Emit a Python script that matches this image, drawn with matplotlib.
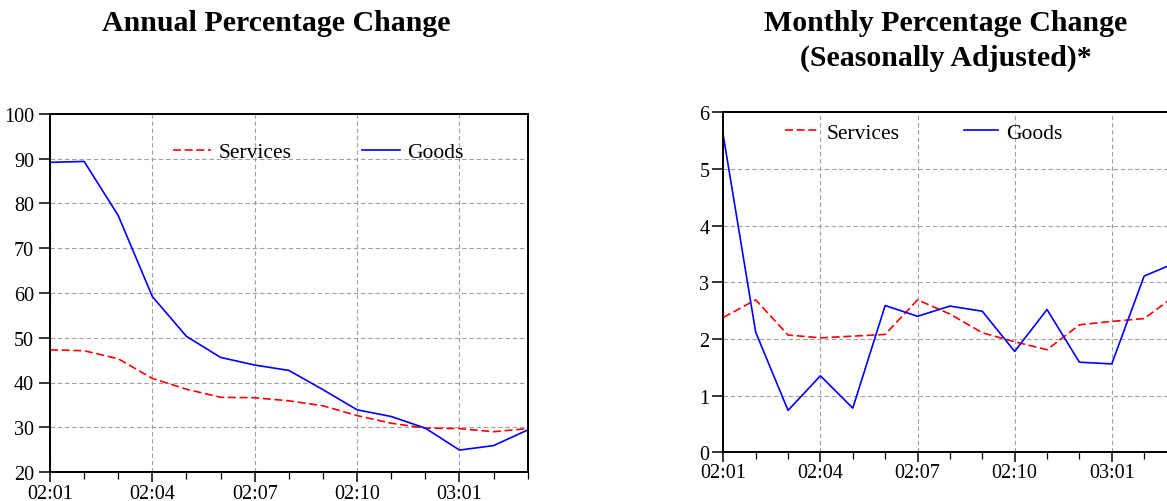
import numpy as np
import matplotlib
matplotlib.use('Agg')
import matplotlib.pyplot as plt
from matplotlib.ticker import FixedLocator

periods = ['02:01', '02:02', '02:03', '02:04', '02:05', '02:06', '02:07', '02:08',
           '02:09', '02:10', '02:11', '02:12', '03:01', '03:02', '03:03']

# annual percentage change
annual_services = [47.3, 47.1, 45.3, 40.9, 38.5, 36.7, 36.6, 35.9,
                   34.8, 32.6, 30.9, 29.8, 29.7, 29.0, 29.7]
annual_goods = [89.2, 89.4, 77.3, 59.2, 50.3, 45.6, 43.9, 42.7,
                38.4, 33.9, 32.4, 29.8, 24.9, 25.9, 29.4]

# monthly percentage change, seasonally adjusted
monthly_services = [2.38, 2.69, 2.07, 2.02, 2.05, 2.08, 2.69, 2.44,
                    2.11, 1.95, 1.81, 2.25, 2.31, 2.36, 2.78]
monthly_goods = [5.59, 2.12, 0.74, 1.35, 0.78, 2.59, 2.40, 2.58,
                 2.49, 1.78, 2.52, 1.59, 1.56, 3.11, 3.35]

plt.rcParams['font.family'] = 'Liberation Serif'

RED = '#ff0000'
BLUE = '#0000ff'
GRID = '#a0a0a0'

W, H = 1167, 502
fig = plt.figure(figsize=(W / 100, H / 100), dpi=100)


def px_axes(left, top, right, bottom):
    return fig.add_axes([left / W, 1 - bottom / H, (right - left) / W, (bottom - top) / H])


def style_axes(ax, ylim, yticks, xpad, ypad):
    x = np.arange(len(periods))
    ax.set_xlim(0, len(periods) - 1)
    ax.set_ylim(*ylim)
    ax.xaxis.set_major_locator(FixedLocator(x[::3]))
    ax.xaxis.set_minor_locator(FixedLocator(x))
    ax.set_xticklabels(periods[::3])
    ax.set_yticks(yticks)
    ax.tick_params(axis='x', which='major', length=7, width=1.1, pad=xpad, labelsize=14.5)
    ax.tick_params(axis='x', which='minor', length=5, width=0.9)
    ax.tick_params(axis='y', length=8, width=1.1, pad=ypad, labelsize=14.5)
    ax.grid(True, which='major', color=GRID, linestyle=(0, (4, 2.5)), linewidth=0.8)
    for s in ax.spines.values():
        s.set_linewidth(1.4)
    ax.set_axisbelow(True)


# left panel
ax1 = px_axes(50, 115, 527.7, 473)
x = np.arange(len(periods))
ax1.plot(x, annual_services, color=RED, linestyle=(0, (4.8, 2.2)), linewidth=1.2, label='Services')
ax1.plot(x, annual_goods, color=BLUE, linewidth=1.2, label='Goods')
style_axes(ax1, (20, 100), range(20, 101, 10), 1.8, 3.5)
ax1.legend(ncol=2, frameon=False, loc='center left', bbox_to_anchor=(0.2575, 0.893),
           borderpad=0, borderaxespad=0, handlelength=1.75, handletextpad=0.35,
           columnspacing=3.3, fontsize=15.5)

# right panel (runs past the right edge of the picture)
ax2 = px_axes(723.3, 113.3, 1176.5, 453.3)
ax2.plot(x, monthly_services, color=RED, linestyle=(0, (4.8, 2.2)), linewidth=1.2, label='Services')
ax2.plot(x, monthly_goods, color=BLUE, linewidth=1.2, label='Goods')
style_axes(ax2, (0, 6), range(0, 7), 0.5, 2)
ax2.legend(ncol=2, frameon=False, loc='center left', bbox_to_anchor=(0.136, 0.94),
           borderpad=0, borderaxespad=0, handlelength=1.55, handletextpad=0.4,
           columnspacing=3.0, fontsize=15.5)

fig.text(276.7 / W, 1 - 31 / H, 'Annual Percentage Change', ha='center', va='baseline',
         fontsize=21.5, fontweight='bold')
fig.text(946 / W, 1 - 31 / H, 'Monthly Percentage Change', ha='center', va='baseline',
         fontsize=21.5, fontweight='bold')
fig.text(946 / W, 1 - 66 / H, '(Seasonally Adjusted)*', ha='center', va='baseline',
         fontsize=21.5, fontweight='bold')

fig.savefig('out.png', dpi=100)
